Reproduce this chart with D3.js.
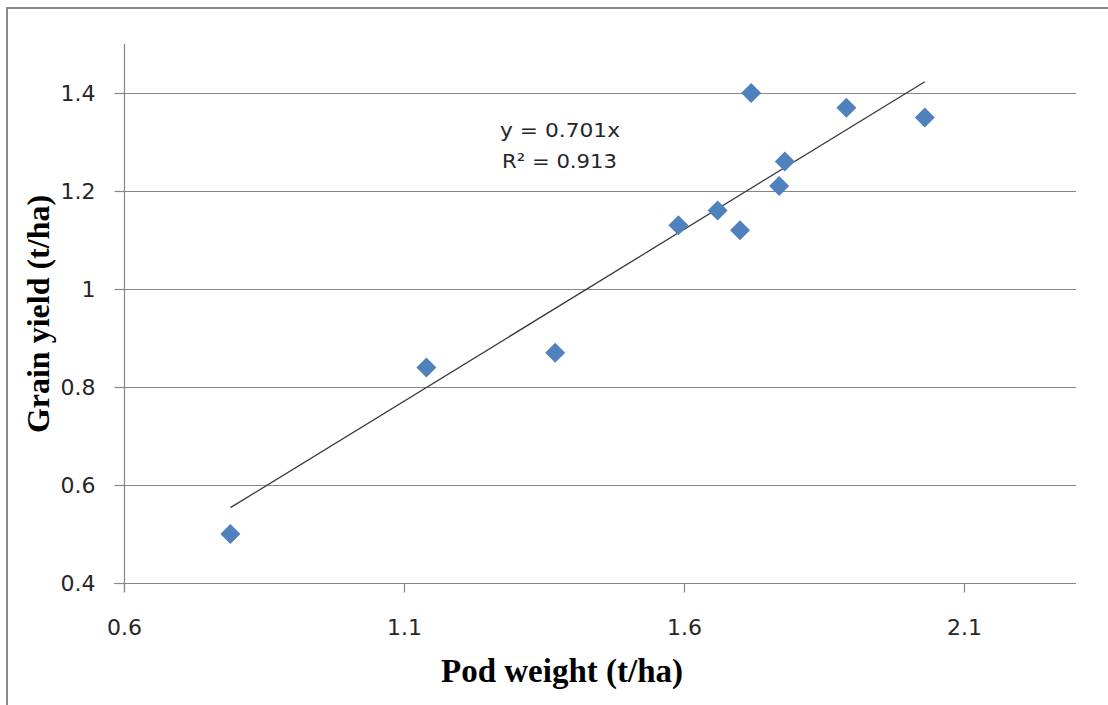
<!DOCTYPE html>
<html>
<head>
<meta charset="utf-8">
<script src="https://cdn.jsdelivr.net/npm/d3@7"></script>
<style>
  html, body { margin: 0; padding: 0; background: #fff; }
  svg { display: block; }
</style>
</head>
<body>
<svg id="chart" width="1108" height="705"></svg>
<script>
// ---- data ----
const podWeight  = [0.79, 1.14, 1.37, 1.59, 1.66, 1.70, 1.72, 1.77, 1.78, 1.89, 2.03];
const grainYield = [0.50, 0.84, 0.87, 1.13, 1.16, 1.12, 1.40, 1.21, 1.26, 1.37, 1.35];
const trendSlope = 0.701;
const equationLabels = ["y = 0.701x", "R\u00B2 = 0.913"];
const xTickValues = [0.6, 1.1, 1.6, 2.1];
const xTickLabels = ["0.6", "1.1", "1.6", "2.1"];
const yTickValues = [0.4, 0.6, 0.8, 1.0, 1.2, 1.4];
const yTickLabels = ["0.4", "0.6", "0.8", "1", "1.2", "1.4"];
const xTitle = "Pod weight (t/ha)";
const yTitle = "Grain yield (t/ha)";

// ---- layout ----
const svg = d3.select("#chart");
const pLeft = 124, pRight = 1076, pTop = 44, pBottom = 583;
const x = d3.scaleLinear().domain([0.6, 2.3]).range([pLeft, pRight]);
const y = d3.scaleLinear().domain([0.4, 1.5]).range([pBottom, pTop]);
const axisColor = "#868686";
const textColor = "#262626";
const tickFont = "'DejaVu Sans', sans-serif";

// outer chart border
svg.append("rect")
  .attr("x", 7).attr("y", 8).attr("width", 1200).attr("height", 800)
  .attr("fill", "none").attr("stroke", "#8a8a8a").attr("stroke-width", 2);

// gridlines
svg.append("g").selectAll("line")
  .data(yTickValues.filter(v => v > 0.4))
  .join("line")
  .attr("x1", pLeft).attr("x2", pRight)
  .attr("y1", d => Math.round(y(d)) + 0.5).attr("y2", d => Math.round(y(d)) + 0.5)
  .attr("stroke", axisColor).attr("stroke-width", 1.2);

// y axis
const yAxis = d3.axisLeft(y).tickValues(yTickValues)
  .tickFormat((d, i) => yTickLabels[i]).tickSize(10).tickPadding(19);
const gy = svg.append("g").attr("transform", `translate(${pLeft + 0.5},0)`).call(yAxis);
gy.select(".domain").remove();
gy.selectAll(".tick line").attr("stroke", axisColor).attr("stroke-width", 1.2);
gy.selectAll(".tick text").attr("fill", textColor)
  .style("font-family", tickFont).style("font-size", "22px");
svg.append("line")
  .attr("x1", pLeft + 0.5).attr("x2", pLeft + 0.5).attr("y1", pTop).attr("y2", pBottom + 9)
  .attr("stroke", axisColor).attr("stroke-width", 1.2);

// x axis
const xAxis = d3.axisBottom(x).tickValues(xTickValues)
  .tickFormat((d, i) => xTickLabels[i]).tickSize(9).tickPadding(27);
const gx = svg.append("g").attr("transform", `translate(0,${pBottom + 0.5})`).call(xAxis);
gx.select(".domain").remove();
gx.selectAll(".tick line").attr("stroke", axisColor).attr("stroke-width", 1.2);
gx.selectAll(".tick text").attr("fill", textColor)
  .style("font-family", tickFont).style("font-size", "22px");
svg.append("line")
  .attr("x1", pLeft - 10).attr("x2", pRight).attr("y1", pBottom + 0.5).attr("y2", pBottom + 0.5)
  .attr("stroke", axisColor).attr("stroke-width", 1.2);

// trendline (y = slope * x) over data range
const xMin = d3.min(podWeight), xMax = d3.max(podWeight);
svg.append("line")
  .attr("x1", x(xMin)).attr("y1", y(trendSlope * xMin))
  .attr("x2", x(xMax)).attr("y2", y(trendSlope * xMax))
  .attr("stroke", "#3a3a3a").attr("stroke-width", 1.3);

// markers (diamonds)
const diamond = d3.symbol().type(d3.symbolSquare).size(200);
svg.append("g").selectAll("path")
  .data(podWeight.map((v, i) => [v, grainYield[i]]))
  .join("path")
  .attr("d", diamond)
  .attr("transform", d => `translate(${x(d[0])},${y(d[1])}) rotate(45)`)
  .attr("fill", "#4F81BD");

// equation label
svg.append("text")
  .attr("x", 500).attr("y", 137)
  .attr("textLength", 120).attr("lengthAdjust", "spacingAndGlyphs")
  .style("font-family", tickFont).style("font-size", "19.5px")
  .attr("fill", textColor).text(equationLabels[0]);
svg.append("text")
  .attr("x", 502).attr("y", 168)
  .attr("textLength", 115).attr("lengthAdjust", "spacingAndGlyphs")
  .style("font-family", tickFont).style("font-size", "19.5px")
  .attr("fill", textColor).text(equationLabels[1]);

// axis titles
svg.append("text")
  .attr("x", 562).attr("y", 682).attr("text-anchor", "middle")
  .style("font-family", "'Liberation Serif', 'Times New Roman', serif")
  .style("font-weight", "bold").style("font-size", "33px")
  .attr("fill", "#000").text(xTitle);
svg.append("text")
  .attr("transform", "translate(49,314) rotate(-90)").attr("text-anchor", "middle")
  .style("font-family", "'Liberation Serif', 'Times New Roman', serif")
  .style("font-weight", "bold").style("font-size", "32px")
  .attr("fill", "#000").text(yTitle);
</script>
</body>
</html>
